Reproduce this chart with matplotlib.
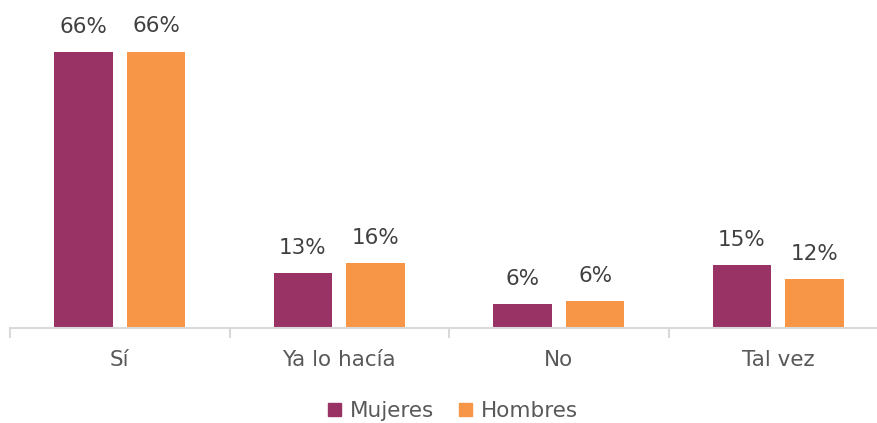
import matplotlib
matplotlib.use("Agg")
import matplotlib.pyplot as plt
import numpy as np
from matplotlib.patches import Patch

categories = ["Sí", "Ya lo hacía", "No", "Tal vez"]
mujeres = [66.0, 13.1, 5.6, 15.0]
hombres = [66.1, 15.5, 6.4, 11.6]
mujeres_labels = ["66%", "13%", "6%", "15%"]
hombres_labels = ["66%", "16%", "6%", "12%"]

c_m = "#993366"
c_h = "#F79646"
grid_c = "#D9D9D9"
txt_c = "#595959"
lab_c = "#404040"

W, H = 878, 423
fig = plt.figure(figsize=(W / 100, H / 100), dpi=100)
base = 327.5
left_px, right_px = 10, 888
ax = fig.add_axes([left_px / W, (H - base) / H, (right_px - left_px) / W, base / H])

x = np.arange(len(categories))
bw = 0.267
off = 0.166
b1 = ax.bar(x - off, mujeres, bw, color=c_m, label="Mujeres")
b2 = ax.bar(x + off, hombres, bw, color=c_h, label="Hombres")

ax.set_xlim(-0.5, 3.5)
ax.set_ylim(0, base / 4.174)

for rects, labs in ((b1, mujeres_labels), (b2, hombres_labels)):
    for r, l in zip(rects, labs):
        ax.annotate(l, (r.get_x() + r.get_width() / 2, r.get_height()),
                    xytext=(0, 11), textcoords="offset points",
                    ha="center", va="bottom", fontsize=15.5, color=lab_c,
                    annotation_clip=False)

for s in ["top", "right", "left"]:
    ax.spines[s].set_visible(False)
ax.spines["bottom"].set_color(grid_c)
ax.spines["bottom"].set_linewidth(1.5)
ax.set_yticks([])
ax.set_xticks(x)
ax.set_xticklabels(categories, fontsize=15.5, color=txt_c)
ax.tick_params(axis="x", which="major", length=0, pad=16)
ax.set_xticks(np.arange(-0.5, 4.0, 1.0), minor=True)
ax.tick_params(axis="x", which="minor", length=7, width=1.5, color=grid_c, direction="out")

handles = [Patch(color=c_m), Patch(color=c_h)]
leg = fig.legend(handles, ["Mujeres", "Hombres"], loc="center", bbox_to_anchor=(453 / W, (H - 411) / H),
                 ncol=2, frameon=False, fontsize=15.5, handlelength=0.6, handleheight=0.6,
                 handletextpad=0.4, columnspacing=1.2, labelcolor=txt_c)

fig.savefig("out.png", dpi=100)
